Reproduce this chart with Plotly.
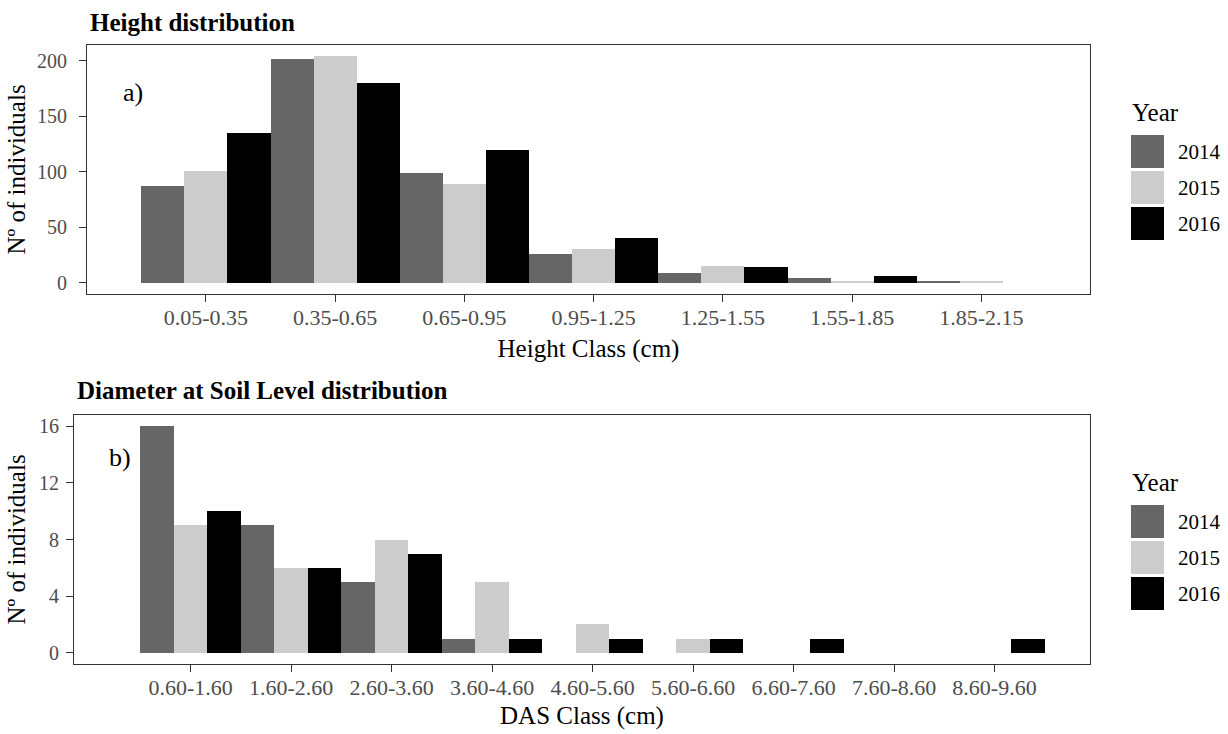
import plotly.graph_objects as go

# ---- data -------------------------------------------------------------
years = ["2014", "2015", "2016"]
year_colors = ["#666666", "#CCCCCC", "#000000"]

height_classes = ["0.05-0.35", "0.35-0.65", "0.65-0.95", "0.95-1.25",
                  "1.25-1.55", "1.55-1.85", "1.85-2.15"]
height_2014 = [87, 202, 99, 26, 9, 4, 1]
height_2015 = [101, 204, 89, 30, 15, 1, 1]
height_2016 = [135, 180, 120, 40, 14, 6, 0]

das_classes = ["0.60-1.60", "1.60-2.60", "2.60-3.60", "3.60-4.60", "4.60-5.60",
               "5.60-6.60", "6.60-7.60", "7.60-8.60", "8.60-9.60"]
das_2014 = [16, 9, 5, 1, None, None, None, None, None]
das_2015 = [9, 6, 8, 5, 2, 1, None, None, None]
das_2016 = [10, 6, 7, 1, 1, 1, 1, None, 1]

height_ticks = [0, 50, 100, 150, 200]
das_ticks = [0, 4, 8, 12, 16]

# ---- figure -----------------------------------------------------------
W, H = 1228, 734
SERIF = "Liberation Serif, Times New Roman, serif"
AXIS_COL = "#333333"
TICK_TXT = "#4D4D4D"

fig = go.Figure()

for name, col, vals in zip(years, year_colors, [height_2014, height_2015, height_2016]):
    fig.add_trace(go.Bar(x=height_classes, y=vals, name=name, marker_color=col,
                         marker_line_width=0, xaxis="x", yaxis="y",
                         showlegend=False))

for name, col, vals in zip(years, year_colors, [das_2014, das_2015, das_2016]):
    fig.add_trace(go.Bar(x=das_classes, y=vals, name=name, marker_color=col,
                         marker_line_width=0, xaxis="x2", yaxis="y2",
                         showlegend=False))


def px_x(v):
    return v / W


def px_y(v):
    return 1 - v / H


common_axis = dict(
    showline=True, mirror=True, linecolor=AXIS_COL, linewidth=1.2,
    ticks="outside", ticklen=7, tickwidth=1.2, tickcolor=AXIS_COL,
    showgrid=False, zeroline=False,
)
x_tick_font = dict(family=SERIF, size=22, color=TICK_TXT)
y_tick_font = dict(family=SERIF, size=20, color=TICK_TXT)
title_font = dict(family=SERIF, size=25, color="black")

fig.update_layout(
    width=W, height=H,
    margin=dict(l=0, r=0, t=0, b=0),
    paper_bgcolor="white", plot_bgcolor="white",
    barmode="group", bargap=0, bargroupgap=0,
    font=dict(family=SERIF, color="black"),
    xaxis=dict(common_axis, domain=[px_x(87), px_x(1090)], anchor="y",
               type="category", range=[-0.92, 6.84], tickfont=x_tick_font,
               ticklabelstandoff=-4,
               title=dict(text="Height Class (cm)", standoff=10, font=title_font)),
    yaxis=dict(common_axis, domain=[px_y(294), px_y(45)], anchor="x",
               range=[-10.2, 214.2], tickvals=height_ticks, tickfont=y_tick_font,
               ticklabelstandoff=8,
               title=dict(text="Nº of individuals", standoff=4, font=title_font)),
    xaxis2=dict(common_axis, domain=[px_x(74), px_x(1090)], anchor="y2",
                type="category", range=[-1.16, 8.95], tickfont=x_tick_font,
                ticklabelstandoff=-4,
                title=dict(text="DAS Class (cm)", standoff=7, font=title_font)),
    yaxis2=dict(common_axis, domain=[px_y(664), px_y(415)], anchor="x2",
                range=[-0.8, 16.8], tickvals=das_ticks, tickfont=y_tick_font,
                ticklabelstandoff=3,
                title=dict(text="Nº of individuals", standoff=6, font=title_font)),
)

# panel titles and tags
fig.add_annotation(text="<b>Height distribution</b>", xref="paper", yref="paper",
                   x=px_x(88), y=px_y(22), xanchor="left", yanchor="middle",
                   showarrow=False, font=dict(family=SERIF, size=25, color="black"))
fig.add_annotation(text="<b>Diameter at Soil Level distribution</b>", xref="paper",
                   yref="paper", x=px_x(75), y=px_y(390), xanchor="left",
                   yanchor="middle", showarrow=False,
                   font=dict(family=SERIF, size=25, color="black"))
fig.add_annotation(text="a)", xref="x domain", yref="y domain", x=0.0454, y=0.811,
                   xanchor="center", yanchor="middle", showarrow=False,
                   font=dict(family=SERIF, size=26, color="black"))
fig.add_annotation(text="b)", xref="x2 domain", yref="y2 domain", x=0.0453, y=0.831,
                   xanchor="center", yanchor="middle", showarrow=False,
                   font=dict(family=SERIF, size=26, color="black"))

# "Year" keys beside each panel
for title_y, first_key_y in [(112, 135), (482, 505)]:
    fig.add_annotation(text="Year", xref="paper", yref="paper", x=px_x(1130),
                       y=px_y(title_y), xanchor="left", yanchor="middle",
                       showarrow=False, font=title_font)
    for i, (name, col) in enumerate(zip(years, year_colors)):
        y0 = first_key_y + i * 36
        fig.add_shape(type="rect", xref="paper", yref="paper",
                      x0=px_x(1131), x1=px_x(1164), y0=px_y(y0), y1=px_y(y0 + 33),
                      fillcolor=col, line=dict(width=0))
        fig.add_annotation(text=name, xref="paper", yref="paper", x=px_x(1176),
                           y=px_y(y0 + 17), xanchor="left", yanchor="middle",
                           showarrow=False,
                           font=dict(family=SERIF, size=21, color="black"))

fig.write_html("out.html")
